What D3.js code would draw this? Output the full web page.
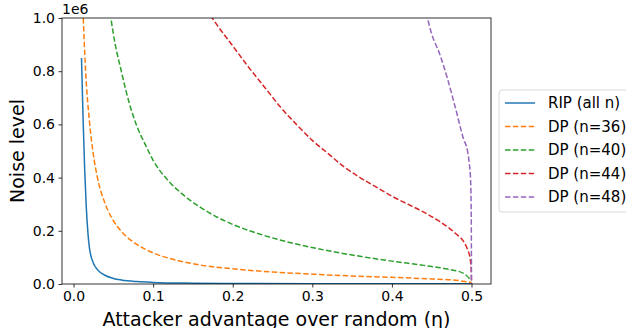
<!DOCTYPE html>
<html>
<head>
<meta charset="utf-8">
<script src="https://cdn.jsdelivr.net/npm/d3@7"></script>
<style>
  body { margin: 0; background: #fff; }
  svg { display: block; font-family: "DejaVu Sans", sans-serif; }
</style>
</head>
<body>
<div class="canvas"></div>
<script>
const dimensions = { width: 626, height: 328 };
const margin = { top: 18, right: 135, bottom: 44, left: 62 };

// data (noise level in raw units)
const ripEta = [0.010, 0.012, 0.014, 0.016, 0.018, 0.020, 0.025, 0.030, 0.040, 0.050, 0.060, 0.080, 0.10, 0.15, 0.20, 0.30, 0.40, 0.50];
const ripNoise = [850000, 620000, 430000, 290000, 195000, 135000, 78000, 54000, 32000, 21000, 15000, 9000, 6000, 3000, 2000, 1200, 800, 600];

const dp36Eta = [0.0118, 0.015, 0.020, 0.025, 0.030, 0.040, 0.050, 0.060, 0.080, 0.10, 0.13, 0.16, 0.20, 0.25, 0.30, 0.35, 0.40, 0.45, 0.48, 0.50];
const dp36Noise = [1030000, 810000, 610000, 485000, 400000, 300000, 238000, 198000, 148000, 117000, 89000, 71000, 57000, 45000, 37000, 30000, 25000, 19000, 14000, 6000];

const dp40Eta = [0.046, 0.050, 0.060, 0.070, 0.080, 0.090, 0.10, 0.12, 0.14, 0.16, 0.18, 0.20, 0.24, 0.28, 0.32, 0.36, 0.40, 0.44, 0.47, 0.49, 0.50];
const dp40Noise = [1020000, 940000, 800000, 680000, 590000, 525000, 465000, 385000, 330000, 287000, 252000, 224000, 182000, 150000, 125000, 104000, 86000, 70000, 56000, 40000, 12000];

const dp44Eta = [0.172, 0.18, 0.20, 0.22, 0.24, 0.26, 0.28, 0.30, 0.32, 0.34, 0.36, 0.38, 0.40, 0.42, 0.44, 0.46, 0.48, 0.49, 0.495, 0.498, 0.4995, 0.50];
const dp44Noise = [1010000, 975000, 895000, 815000, 740000, 665000, 600000, 540000, 490000, 440000, 400000, 365000, 330000, 300000, 270000, 235000, 190000, 160000, 130000, 100000, 60000, 0];

const dp48Eta = [0.443, 0.45, 0.46, 0.47, 0.48, 0.49, 0.495, 0.497, 0.499, 0.4997, 0.50];
const dp48Noise = [1020000, 940000, 865000, 770000, 660000, 545000, 500000, 460000, 380000, 250000, 0];

const seriesNames = ['RIP (all n)', 'DP (n=36)', 'DP (n=40)', 'DP (n=44)', 'DP (n=48)'];
const seriesColours = ['#1f77b4', '#ff7f0e', '#2ca02c', '#d62728', '#9467bd'];

const xTicks = [0.0, 0.1, 0.2, 0.3, 0.4, 0.5];
const yTicks = [0, 200000, 400000, 600000, 800000, 1000000];

const series = [
    { name: seriesNames[0], eta: ripEta, noise: ripNoise, dashed: false },
    { name: seriesNames[1], eta: dp36Eta, noise: dp36Noise, dashed: true },
    { name: seriesNames[2], eta: dp40Eta, noise: dp40Noise, dashed: true },
    { name: seriesNames[3], eta: dp44Eta, noise: dp44Noise, dashed: true },
    { name: seriesNames[4], eta: dp48Eta, noise: dp48Noise, dashed: true }
].map((s, i) => ({ ...s, colour: seriesColours[i], points: s.eta.map((e, j) => [e, s.noise[j]]) }));

const svg = d3.select('.canvas')
    .append('svg')
    .attr('width', dimensions.width)
    .attr('height', dimensions.height);

const innerW = dimensions.width - margin.left - margin.right;
const innerH = dimensions.height - margin.top - margin.bottom;

// matplotlib style 5% x margin
const xMin = 0.01, xMax = 0.5;
const pad = (xMax - xMin) * 0.05;
const x = d3.scaleLinear().domain([xMin - pad, xMax + pad]).range([0, innerW]);
const y = d3.scaleLinear().domain([0, 1000000]).range([innerH, 0]);

const graph = svg.append('g')
    .attr('transform', `translate(${margin.left}, ${margin.top})`);

graph.append('clipPath').attr('id', 'clip')
    .append('rect').attr('width', innerW).attr('height', innerH);

const line = d3.line()
    .x(d => x(d[0]))
    .y(d => y(d[1]))
    .curve(d3.curveMonotoneX);

graph.append('g').attr('clip-path', 'url(#clip)')
    .selectAll('path')
    .data(series)
    .enter()
    .append('path')
    .attr('fill', 'none')
    .attr('stroke', d => d.colour)
    .attr('stroke-width', 1.5)
    .attr('stroke-dasharray', d => d.dashed ? '5.5,2.4' : null)
    .attr('d', d => line(d.points));

// axes
const xAxis = graph.append('g')
    .attr('transform', `translate(0, ${innerH})`)
    .call(d3.axisBottom(x).tickValues(xTicks).tickFormat(d3.format('.1f')).tickSize(3.5).tickPadding(3.5));

const yAxis = graph.append('g')
    .call(d3.axisLeft(y).tickValues(yTicks).tickFormat(d => d3.format('.1f')(d / 1e6)).tickSize(3.5).tickPadding(3.5));

[xAxis, yAxis].forEach(a => {
    a.select('.domain').remove();
    a.selectAll('line').attr('stroke', '#000').attr('stroke-width', 0.8);
    a.selectAll('text').attr('font-size', 14).attr('fill', '#000').attr('font-family', '"DejaVu Sans", sans-serif');
});

graph.append('rect')
    .attr('width', innerW)
    .attr('height', innerH)
    .attr('fill', 'none')
    .attr('stroke', '#000')
    .attr('stroke-width', 0.8);

// offset text
graph.append('text')
    .attr('x', 0)
    .attr('y', -4)
    .attr('font-size', 14)
    .text('1e6');

// labels
svg.append('text')
    .attr('x', margin.left + innerW / 2)
    .attr('y', 325.5)
    .attr('text-anchor', 'middle')
    .attr('font-size', 19)
    .text('Attacker advantage over random (η)');

svg.append('text')
    .attr('transform', `translate(23.5, ${margin.top + innerH / 2}) rotate(-90)`)
    .attr('text-anchor', 'middle')
    .attr('font-size', 19)
    .text('Noise level');

// legend
const legend = svg.append('g')
    .attr('transform', 'translate(499, 90)');

legend.append('rect')
    .attr('width', 140)
    .attr('height', 122)
    .attr('rx', 3)
    .attr('fill', '#fff')
    .attr('fill-opacity', 0.8)
    .attr('stroke', '#d8d8d8')
    .attr('stroke-width', 1);

const items = legend.selectAll('.item')
    .data(series)
    .enter()
    .append('g')
    .attr('class', 'item')
    .attr('transform', (d, i) => `translate(0, ${13 + i * 23.5})`);

items.append('line')
    .attr('x1', 6).attr('x2', 36)
    .attr('stroke', d => d.colour)
    .attr('stroke-width', 1.5)
    .attr('stroke-dasharray', d => d.dashed ? '5.5,2.4' : null);

items.append('text')
    .attr('x', 49)
    .attr('dy', '0.35em')
    .attr('font-size', 15)
    .text(d => d.name);
</script>
</body>
</html>
